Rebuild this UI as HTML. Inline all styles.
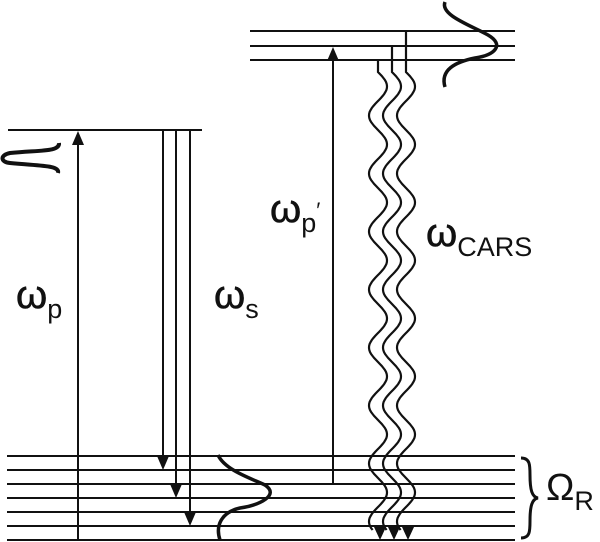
<!DOCTYPE html>
<html><head><meta charset="utf-8"><style>
html,body{margin:0;padding:0;background:#fff;}
svg{display:block;}
text{font-family:"Liberation Sans",sans-serif;fill:#111;}
</style></head><body>
<svg id="s" width="600" height="542" viewBox="0 0 600 542" xmlns="http://www.w3.org/2000/svg">
<g stroke="#111" stroke-width="2" fill="none">
<line x1="7" y1="456" x2="515" y2="456"/>
<line x1="7" y1="470" x2="515" y2="470"/>
<line x1="7" y1="484" x2="515" y2="484"/>
<line x1="7" y1="498" x2="515" y2="498"/>
<line x1="7" y1="512" x2="515" y2="512"/>
<line x1="7" y1="526" x2="515" y2="526"/>
<line x1="7" y1="540" x2="515" y2="540"/>
<line x1="8" y1="130" x2="202" y2="130"/>
<line x1="250" y1="31" x2="515" y2="31"/>
<line x1="250" y1="46" x2="515" y2="46"/>
<line x1="250" y1="60" x2="515" y2="60"/>
<line x1="78" y1="540" x2="78" y2="142"/>
<line x1="163" y1="130" x2="163" y2="460"/>
<line x1="176" y1="130" x2="176" y2="488"/>
<line x1="190" y1="130" x2="190" y2="516"/>
<line x1="333" y1="484" x2="333" y2="58"/>
<path d="M59 143 C60 152 40 150 10 153 C0 155 0 162 10 163 C40 166 60 165 58 173" stroke-width="4"/>
<path d="M445 2 C440 15 470 25 488 35 C505 45 495 55 475 58 C455 62 440 70 445 87" stroke-width="3.5"/>
<path d="M218 455 C225 470 250 478 265 485 C280 495 260 505 240 508 C222 512 215 525 220 540" stroke-width="3.5"/>
<path d="M521 458 C530 458 530 465 530 475 C530 490 532 497 538 498 C532 499 530 506 530 521 C530 531 530 538 521 538" stroke-width="3"/>
<g id="waves"></g>
</g>
<g fill="#111">
<polygon points="78,131 72,145 84,145"/>
<polygon points="163,470 157,456 169,456"/>
<polygon points="176,498 170,484 182,484"/>
<polygon points="190,526 184,512 196,512"/>
<polygon points="333,47 327,61 339,61"/>
<polygon points="380,540 374,527 386,527"/>
<polygon points="394,540 388,527 400,527"/>
<polygon points="408,540 402,527 414,527"/>
</g>
<text x="16" y="308" font-size="40" stroke="#111" stroke-width="0.6">ω<tspan font-size="27" dy="10" stroke-width="0">p</tspan></text>
<text x="214" y="308" font-size="40" stroke="#111" stroke-width="0.6">ω<tspan font-size="27" dy="10" stroke-width="0">s</tspan></text>
<text x="270" y="222" font-size="40" stroke="#111" stroke-width="0.6">ω<tspan font-size="27" dy="10" stroke-width="0">p</tspan><tspan font-size="22" dy="-14" stroke-width="0">′</tspan></text>
<text x="426" y="246" font-size="40" stroke="#111" stroke-width="0.6">ω<tspan font-size="27" dy="10" stroke-width="0">CARS</tspan></text>
<text x="546" y="500" font-size="38">Ω<tspan font-size="27" dy="10">R</tspan></text>
</svg>
<script>
(function(){
 var g=document.getElementById('waves');
 var starts=[[378,60],[392,46],[406,31]];
 var ns='http://www.w3.org/2000/svg';
 starts.forEach(function(s){
  var x0=s[0],y0=s[1];
  var d='M'+x0+' '+y0+' L'+x0+' 72';
  for(var y=72;y<=530;y+=2){
   var x=x0+9*Math.sin((y-72)/58*2*Math.PI);
   d+=' L'+x.toFixed(1)+' '+y;
  }
  var p=document.createElementNS(ns,'path');
  p.setAttribute('d',d);
  p.setAttribute('stroke-width','2.2');
  g.appendChild(p);
 });
})();
</script>
</body></html>
